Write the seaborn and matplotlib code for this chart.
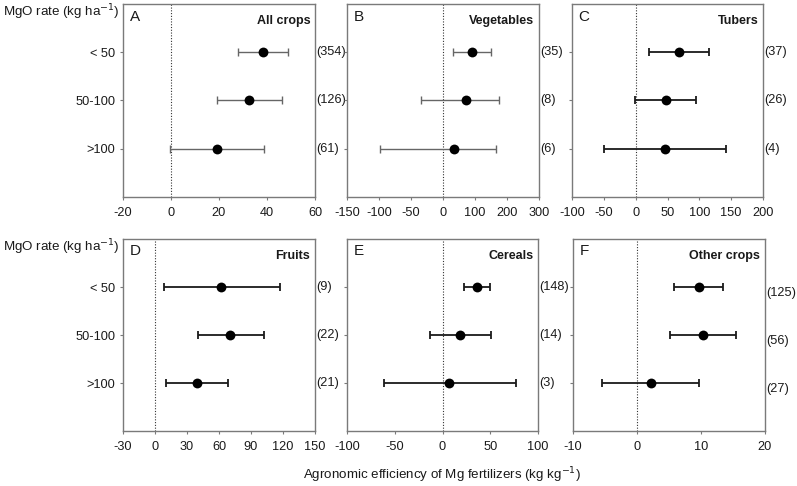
import numpy as np
import pandas as pd
import seaborn as sns
import matplotlib.pyplot as plt

# MgO rate classes (rows of every panel)
rates = ["< 50", "50-100", ">100"]

# mean agronomic efficiency and the lower / upper ends of the error bars
crop_names = ["All crops", "Vegetables", "Tubers", "Fruits", "Cereals", "Other crops"]
panel_letters = ["A", "B", "C", "D", "E", "F"]

all_mean = [38.3, 32.4, 19.0]
all_low = [27.8, 19.2, -0.6]
all_high = [48.9, 46.1, 38.9]
all_n = ["(354)", "(126)", "(61)"]

veg_mean = [90.6, 70.8, 33.3]
veg_low = [32.3, -34.4, -98.4]
veg_high = [150.0, 176.0, 165.6]
veg_n = ["(35)", "(8)", "(6)"]

tub_mean = [68.3, 47.0, 46.4]
tub_low = [21.4, -1.0, -50.0]
tub_high = [115.3, 95.0, 142.4]
tub_n = ["(37)", "(26)", "(4)"]

fru_mean = [62.2, 70.7, 39.6]
fru_low = [8.2, 40.5, 10.4]
fru_high = [116.9, 102.0, 68.8]
fru_n = ["(9)", "(22)", "(21)"]

cer_mean = [35.7, 18.5, 7.3]
cer_low = [22.0, -12.9, -61.5]
cer_high = [49.3, 50.7, 76.9]
cer_n = ["(148)", "(14)", "(3)"]

oth_mean = [9.67, 10.3, 2.2]
oth_low = [5.8, 5.1, -5.4]
oth_high = [13.5, 15.4, 9.7]
oth_n = ["(125)", "(56)", "(27)"]

x_ticks = [
    [-20, 0, 20, 40, 60],
    [-150, -100, -50, 0, 100, 200, 300],
    [-100, -50, 0, 50, 100, 150, 200],
    [-30, 0, 30, 60, 90, 120, 150],
    [-100, -50, 0, 50, 100],
    [-10, 0, 10, 20],
]

panels = [
    (all_mean, all_low, all_high, all_n),
    (veg_mean, veg_low, veg_high, veg_n),
    (tub_mean, tub_low, tub_high, tub_n),
    (fru_mean, fru_low, fru_high, fru_n),
    (cer_mean, cer_low, cer_high, cer_n),
    (oth_mean, oth_low, oth_high, oth_n),
]


# panel B uses a squeezed negative side (-50 per step left of 0, 100 right of 0)
def fwd(x):
    x = np.asarray(x, dtype=float)
    return np.where(x < 0, 2 * x, x)


def inv(y):
    y = np.asarray(y, dtype=float)
    return np.where(y < 0, y / 2, y)


sns.set_theme(style="ticks")
plt.rcParams["font.family"] = ["Liberation Sans", "DejaVu Sans"]

W, H = 797, 486
fig = plt.figure(figsize=(W / 100, H / 100), dpi=100)

# axes boxes in pixels: left, right, top, bottom
boxes = [
    (123, 315, 4, 197), (347, 539, 4, 197), (572, 763, 4, 197),
    (123, 315, 239, 431), (347, 538, 239, 431), (573, 765, 239, 431),
]

spine_col = "#7a7a7a"
txt_col = "#1a1a1a"
for i, (data, box) in enumerate(zip(panels, boxes)):
    mean, low, high, n_lab = data
    l, r, t, b = box
    ax = fig.add_axes([l / W, 1 - b / H, (r - l) / W, (b - t) / H])

    df = pd.DataFrame({"rate": rates, "mean": mean, "low": low, "high": high})
    df["pos"] = np.arange(len(rates))

    if i < 2:
        bar_col, bar_lw = "#666666", 1.0
    else:
        bar_col, bar_lw = "#1a1a1a", 1.3

    if i == 1:
        ax.set_xscale("function", functions=(fwd, inv))

    ax.axvline(0, color="#333333", lw=0.8, ls=(0, (1, 1.5)), zorder=1)
    ax.errorbar(
        df["mean"], df["pos"],
        xerr=[df["mean"] - df["low"], df["high"] - df["mean"]],
        fmt="none", ecolor=bar_col, elinewidth=bar_lw,
        capsize=2.6, capthick=bar_lw, zorder=2,
    )
    sns.scatterplot(data=df, x="mean", y="pos", ax=ax, color="black",
                    s=50, edgecolor="black", linewidth=0, zorder=3, legend=False)

    ax.set_xlim(x_ticks[i][0], x_ticks[i][-1])
    ax.set_xticks(x_ticks[i])
    ax.set_xticklabels([str(v) for v in x_ticks[i]])
    ax.set_ylim(3, -1)
    ax.set_yticks(df["pos"])
    if i % 3 == 0:
        ax.set_yticklabels(rates)
    else:
        ax.set_yticklabels([])
    ax.set_xlabel("")
    ax.set_ylabel("")
    ax.tick_params(axis="both", length=2.5, width=0.8, color=spine_col,
                   labelsize=9.2, labelcolor=txt_col)
    ax.tick_params(axis="x", pad=4.5)
    ax.tick_params(axis="y", pad=3)
    for s in ax.spines.values():
        s.set_color(spine_col)
        s.set_linewidth(1.0)
    ax.minorticks_off()

    # sample counts on the right side of each panel
    shift = 0.12 if i == 5 else 0.0
    for k, lab in enumerate(n_lab):
        ax.text(1.005, k + shift, lab, transform=ax.get_yaxis_transform(),
                ha="left", va="center", fontsize=9.2, color=txt_col)

    ax.text(0.035, 0.935, panel_letters[i], transform=ax.transAxes,
            ha="left", va="center", fontsize=11, color=txt_col)
    ax.text(0.975, 0.912, crop_names[i], transform=ax.transAxes,
            ha="right", va="center", fontsize=9, fontweight="bold",
            color=txt_col)

for y in [12, 247]:
    fig.text(3 / W, 1 - y / H, "MgO rate (kg ha$^{-1}$)", ha="left", va="center",
             fontsize=9.6, color=txt_col)

fig.text(442 / W, 1 - 475 / H,
         "Agronomic efficiency of Mg fertilizers (kg kg$^{-1}$)",
         ha="center", va="center", fontsize=9.6, color=txt_col)

fig.savefig("out.png", dpi=100)
